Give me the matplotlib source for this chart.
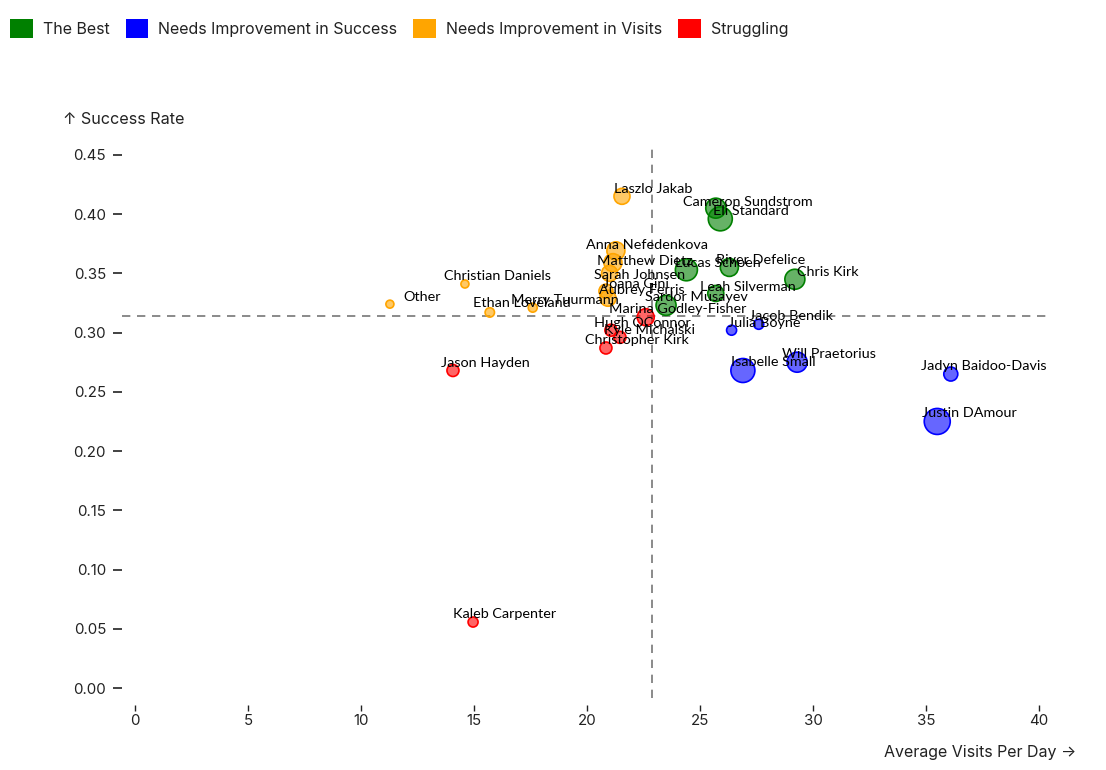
import matplotlib
matplotlib.use("Agg")
import matplotlib.pyplot as plt
from matplotlib.patches import Patch
import numpy as np

# ---- data ----
names = ["Laszlo Jakab", "Cameron Sundstrom", "Eli Standard", "Anna Nefedenkova",
         "Matthew Dietz", "Lucas Schoen", "River Defelice", "Chris Kirk",
         "Christian Daniels", "Sarah Johnsen", "Joana Gini", "Leah Silverman",
         "Aubrey Ferris", "Other", "Sardor Musayev", "Merry Tuurmann",
         "Ethan Loveland", "Marina Godley-Fisher", "Jacob Bendik", "Hugh OConnor",
         "Julia Boyne", "Kyle Michalski", "Christopher Kirk", "Will Praetorius",
         "Isabelle Small", "Jason Hayden", "Jadyn Baidoo-Davis", "Justin DAmour",
         "Kaleb Carpenter"]
visits = [21.55, 25.7, 25.9, 21.28, 21.15, 24.4, 26.3, 29.2,
          14.6, 21.0, 20.84, 25.7, 20.93, 11.28, 23.5, 17.6,
          15.7, 22.6, 27.6, 21.06, 26.4, 21.46, 20.84, 29.3,
          26.9, 14.07, 36.1, 35.5, 14.96]
success = [0.415, 0.405, 0.396, 0.369, 0.359, 0.353, 0.355, 0.345,
           0.341, 0.350, 0.335, 0.333, 0.329, 0.324, 0.323, 0.321,
           0.317, 0.313, 0.307, 0.302, 0.302, 0.296, 0.287, 0.275,
           0.268, 0.268, 0.265, 0.225, 0.0557]
volume = [64, 100, 144, 81, 81, 121, 81, 100,
          16, 64, 49, 64, 64, 16, 100, 20,
          22, 72, 25, 36, 25, 36, 36, 100,
          144, 36, 49, 169, 25]
group = ["Needs Improvement in Visits", "The Best", "The Best", "Needs Improvement in Visits",
         "Needs Improvement in Visits", "The Best", "The Best", "The Best",
         "Needs Improvement in Visits", "Needs Improvement in Visits", "Needs Improvement in Visits", "The Best",
         "Needs Improvement in Visits", "Needs Improvement in Visits", "The Best", "Needs Improvement in Visits",
         "Needs Improvement in Visits", "Struggling", "Needs Improvement in Success", "Struggling",
         "Needs Improvement in Success", "Struggling", "Struggling", "Needs Improvement in Success",
         "Needs Improvement in Success", "Struggling", "Needs Improvement in Success", "Needs Improvement in Success",
         "Struggling"]
groups = ["The Best", "Needs Improvement in Success", "Needs Improvement in Visits", "Struggling"]
mean_visits = 22.88
mean_success = 0.314
x_ticks = [0, 5, 10, 15, 20, 25, 30, 35, 40]
y_ticks = [0.00, 0.05, 0.10, 0.15, 0.20, 0.25, 0.30, 0.35, 0.40, 0.45]

# ---- layout / style ----
colors = {"The Best": "#008000", "Needs Improvement in Success": "#0000ff",
          "Needs Improvement in Visits": "#ffa500", "Struggling": "#ff0000"}
# label offsets in pixels (dx to text left, dy to text center; y down)
label_off = [(-8, -7), (-33, -6), (-7, -8), (-30, -6), (-16, -2), (-11, -7), (-13, -7), (2, -7),
             (-21, -8), (-16, 2), (-3, -7), (-16, -6), (-9, -8), (13, -7), (-21, -8), (-22, -8),
             (-17, -9), (-37, -8), (-10, -8), (-17, -7), (-4, -7), (-16, -7), (-21, -8), (-15, -8),
             (-12, -8), (-12, -7), (-30, -8), (-15, -8), (-20, -8)]

W, H = 1106, 770
fig = plt.figure(figsize=(W / 100, H / 100), dpi=100)
L, R, T, B = 122, 1050, 143, 698
ax = fig.add_axes([L / W, 1 - B / H, (R - L) / W, (B - T) / H])
ax.set_xlim(-0.575, 40.49)
ax.set_ylim(-0.0084, 0.460)

tick_font = "Inter"
txt_color = "#222222"

# reference lines
ax.axvline(mean_visits, color="#777777", lw=1.2, ls=(0, (5, 4)), zorder=1)
ax.axhline(mean_success, color="#777777", lw=1.2, ls=(0, (5, 4)), zorder=1)

px2pt = 0.72
for i in range(len(names)):
    c = colors[group[i]]
    s = (2 * np.sqrt(volume[i]) * px2pt) ** 2
    ax.scatter(visits[i], success[i], s=s, color=c, alpha=0.6, edgecolors="none", zorder=2)
    ax.scatter(visits[i], success[i], s=s, facecolors="none", edgecolors=c, linewidths=1.2, zorder=3)

for i in range(len(names)):
    dx, dy = label_off[i]
    ax.annotate(names[i], (visits[i], success[i]), xytext=(dx * px2pt, -dy * px2pt),
                textcoords="offset points", ha="left", va="center",
                fontsize=10.4, family=["Lato", "DejaVu Sans"], color="black", zorder=4)

for sp in ax.spines.values():
    sp.set_visible(False)
ax.spines["bottom"].set_position(("outward", 5))
ax.set_xticks(x_ticks)
ax.set_xticklabels([str(v) for v in x_ticks])
ax.set_yticks(y_ticks)
ax.set_yticklabels([f"{v:.2f}" for v in y_ticks])
ax.tick_params(axis="x", length=6 * px2pt, width=1, color=txt_color, pad=2,
               labelsize=10.8, labelcolor=txt_color)
ax.tick_params(axis="y", length=9 * px2pt, width=1.2, color=txt_color, pad=5,
               labelsize=10.8, labelcolor=txt_color)
for lab in ax.get_xticklabels() + ax.get_yticklabels():
    lab.set_family(tick_font)

fig.text(63 / W, 1 - 120 / H, "↑ Success Rate", ha="left", va="center",
         fontsize=11.6, family=[tick_font, "DejaVu Sans"], color=txt_color)
fig.text(1076 / W, 1 - 752 / H, "Average Visits Per Day →", ha="right", va="center",
         fontsize=11.5, family=[tick_font, "DejaVu Sans"], color=txt_color)

handles = [Patch(facecolor=colors[g], edgecolor="none") for g in groups]
leg = fig.legend(handles, groups, loc="upper left", bbox_to_anchor=(4 / W, 1 - 13 / H),
                 ncol=4, frameon=False, handlelength=1.4, handleheight=1.4,
                 handletextpad=0.65, columnspacing=1.0, borderaxespad=0,
                 prop={"family": tick_font, "size": 11.5})
for t in leg.get_texts():
    t.set_color(txt_color)

fig.savefig("out.png", dpi=100)
